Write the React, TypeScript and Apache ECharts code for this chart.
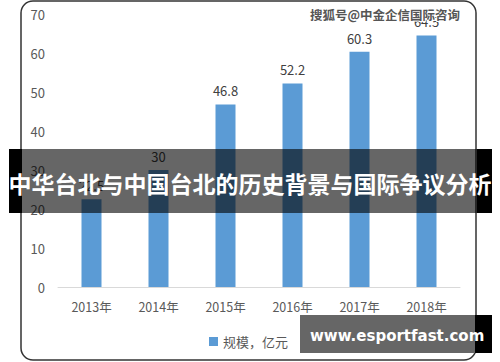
import React, { useEffect, useRef } from "react";
import * as echarts from "echarts";

const years = ["2013年", "2014年", "2015年", "2016年", "2017年", "2018年"];
const scale = [22.5, 30, 46.8, 52.2, 60.3, 64.5];
const seriesName = "规模，亿元";
const yTicks = { min: 0, max: 70, interval: 10 };
const titleText = "中华台北与中国台北的历史背景与国际争议分析";
const sourceText = "搜狐号@中金企信国际咨询";
const siteText = "www.esportfast.com";

const FONT = "'Noto Sans CJK SC', 'Noto Sans', sans-serif";

export default function App() {
  const ref = useRef<HTMLDivElement>(null);
  useEffect(() => {
    if (!ref.current) return;
    const chart = echarts.init(ref.current, null, { renderer: "svg" });
    chart.setOption({
      animation: false,
      backgroundColor: "#ffffff",
      textStyle: { fontFamily: FONT },
      grid: { left: 58, right: 40, top: 14, bottom: 75 },
      xAxis: {
        type: "category",
        data: years,
        axisTick: { show: false },
        axisLine: { lineStyle: { color: "#d9d9d9", width: 1 } },
        axisLabel: { color: "#595959", fontSize: 12.5, margin: 13, fontFamily: FONT },
      },
      yAxis: {
        type: "value",
        min: yTicks.min,
        max: yTicks.max,
        interval: yTicks.interval,
        axisLine: { show: false },
        axisTick: { show: false },
        splitLine: { show: false },
        axisLabel: { color: "#595959", fontSize: 13, margin: 13, fontFamily: FONT },
      },
      legend: {
        data: [seriesName],
        left: 204,
        top: 330,
        itemWidth: 9,
        itemHeight: 9,
        itemGap: 4,
        icon: "rect",
        textStyle: { color: "#595959", fontSize: 13, fontFamily: FONT },
      },
      series: [
        {
          name: seriesName,
          type: "bar",
          data: scale,
          barWidth: 20,
          itemStyle: { color: "#5B9BD5" },
          label: {
            show: true,
            position: "top",
            distance: 7,
            color: "#404040",
            fontSize: 13,
            fontFamily: FONT,
          },
        },
      ],
      graphic: [
        {
          type: "rect",
          z: 50,
          shape: { x: 21, y: 1, width: 455, height: 359, r: 12 },
          style: { fill: "none", stroke: "#333333", lineWidth: 1.5 },
        },
        {
          type: "text",
          z: 60,
          x: 310,
          y: 14,
          style: {
            text: sourceText,
            font: `bold 12.5px ${FONT}`,
            fill: "#555555",
            stroke: "#ffffff",
            lineWidth: 2,
            verticalAlign: "middle",
          },
        },
        {
          type: "rect",
          z: 100,
          shape: { x: 9, y: 149, width: 13, height: 64 },
          style: { fill: "#000000" },
        },
        {
          type: "rect",
          z: 100,
          shape: { x: 477, y: 149, width: 15, height: 64 },
          style: { fill: "#000000" },
        },
        {
          type: "rect",
          z: 102,
          shape: { x: 22, y: 149, width: 455, height: 64 },
          style: { fill: "rgba(0,0,0,0.6)" },
        },
        {
          type: "text",
          z: 110,
          x: 250,
          y: 183,
          style: {
            text: titleText,
            font: `bold 23px ${FONT}`,
            fill: "#ffffff",
            align: "center",
            verticalAlign: "middle",
          },
        },
        {
          type: "rect",
          z: 100,
          shape: { x: 475, y: 315, width: 17, height: 38 },
          style: { fill: "#000000" },
        },
        {
          type: "rect",
          z: 101,
          shape: { x: 300, y: 315, width: 175, height: 38 },
          style: { fill: "#666666" },
        },
        {
          type: "text",
          z: 110,
          x: 310,
          y: 336,
          style: {
            text: siteText,
            font: "bold 15px 'DejaVu Sans', sans-serif",
            fill: "#ffffff",
            verticalAlign: "middle",
          },
        },
      ],
    });
    return () => chart.dispose();
  }, []);
  return (
    <div
      ref={ref}
      style={{ position: "absolute", left: 0, top: 0, width: 500, height: 362 }}
    />
  );
}
